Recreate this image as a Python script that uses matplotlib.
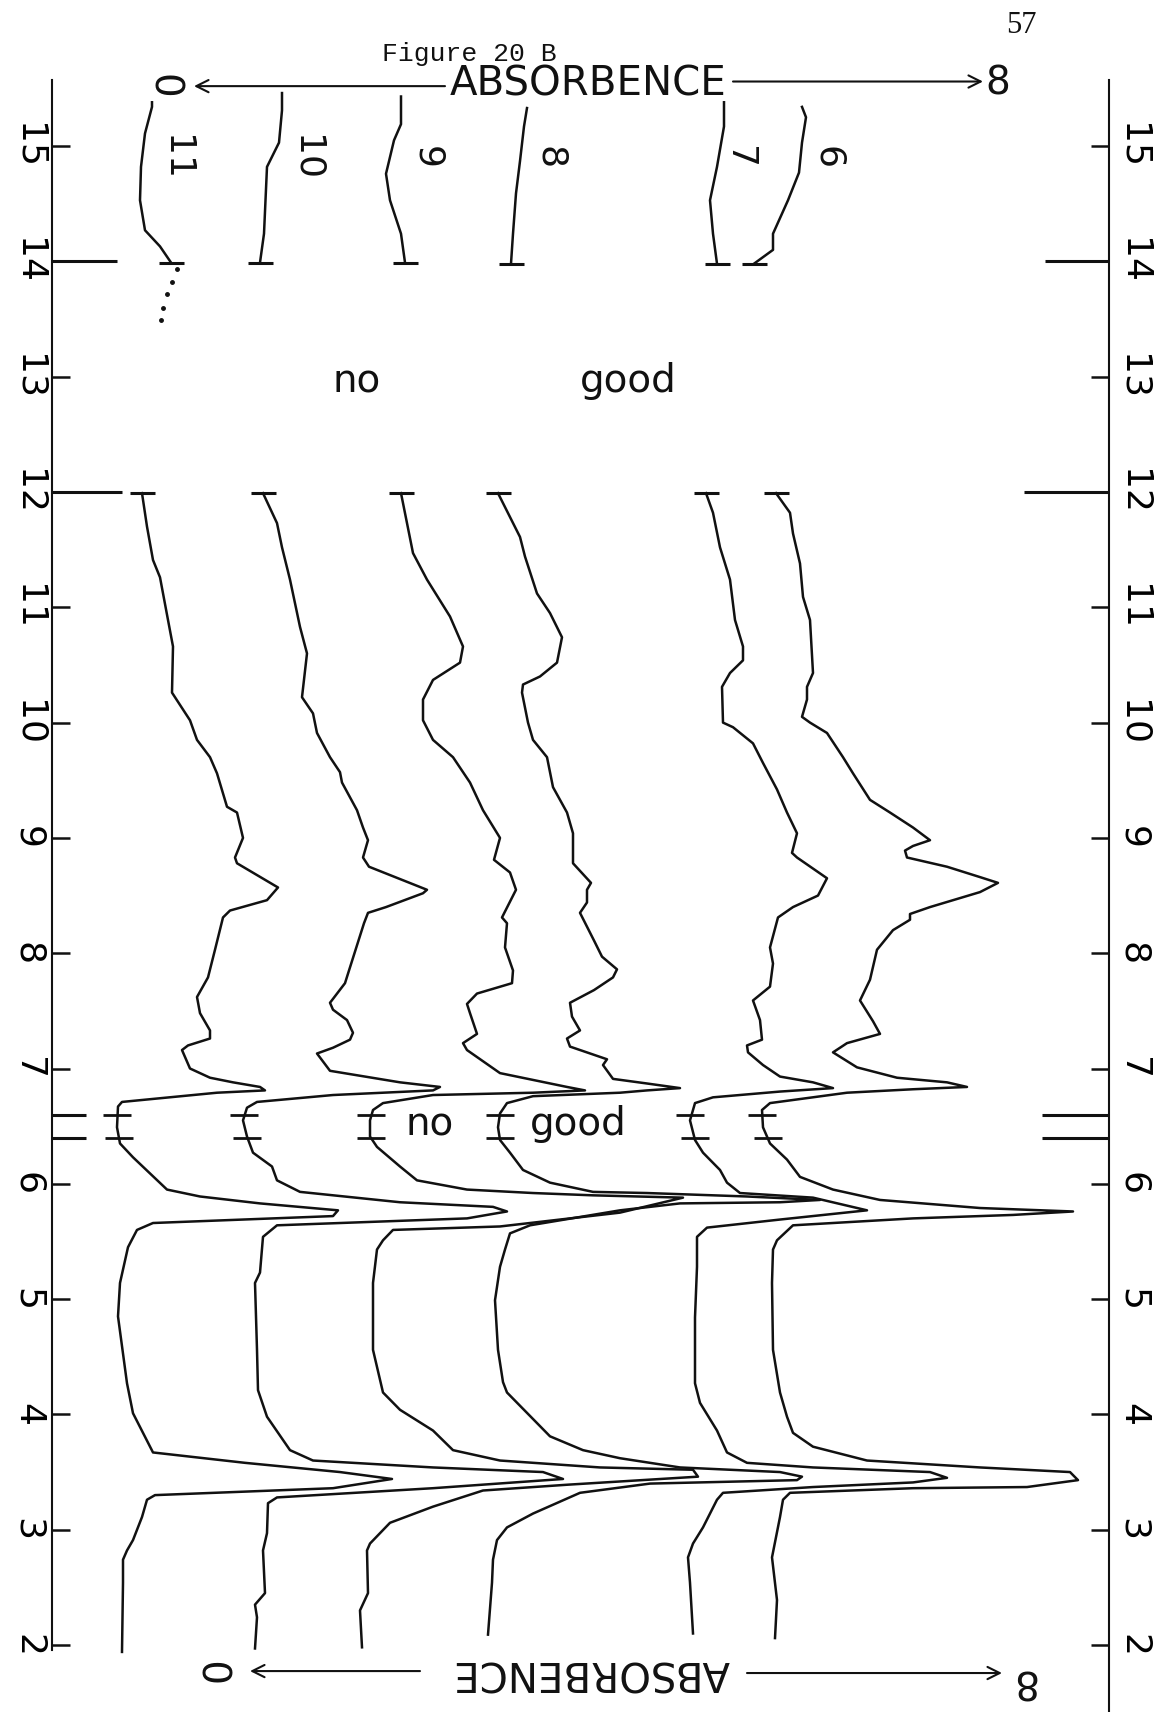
import numpy as np
import matplotlib.pyplot as plt

plt.rcParams['font.family'] = ['Liberation Sans Narrow', 'DejaVu Sans']

# Figure 20 B: IR traces of samples 6-11, absorbance (offset chart units) vs wavelength (microns)
# each row is (wavelength, absorbance offset)
wl_ticks = list(range(2, 16))

t11_low = np.array([
    (1.94, 1.22), (2.54, 1.23), (2.74, 1.23), (2.82, 1.27), (2.91, 1.33), (3.11, 1.42),
    (3.26, 1.47), (3.30, 1.55), (3.36, 3.33), (3.44, 3.92), (3.50, 3.40), (3.58, 2.45),
    (3.67, 1.53), (3.84, 1.43), (4.01, 1.33), (4.27, 1.27), (4.85, 1.18), (5.14, 1.20),
    (5.45, 1.28), (5.60, 1.37), (5.66, 1.53), (5.72, 3.33), (5.77, 3.38), (5.83, 2.60),
    (5.89, 2.00), (5.95, 1.67), (6.09, 1.50), (6.23, 1.33), (6.35, 1.20), (6.49, 1.17),
    (6.67, 1.18), (6.71, 1.22), (6.79, 2.17), (6.81, 2.65), (6.84, 2.60), (6.88, 2.33),
    (6.92, 2.10), (7.00, 1.90), (7.16, 1.82), (7.20, 1.88), (7.26, 2.10), (7.33, 2.10),
    (7.48, 2.00), (7.62, 1.97), (7.79, 2.08), (8.03, 2.15), (8.31, 2.23), (8.37, 2.30),
    (8.46, 2.67), (8.57, 2.78), (8.78, 2.37), (8.83, 2.35), (9.00, 2.43), (9.22, 2.37),
    (9.27, 2.27), (9.56, 2.17), (9.70, 2.10), (9.85, 1.97), (10.02, 1.90), (10.26, 1.72),
    (10.66, 1.73), (10.89, 1.68), (11.26, 1.60), (11.41, 1.53), (11.70, 1.47), (11.99, 1.42)])
t11_high = np.array([
    (13.99, 1.71), (14.13, 1.60), (14.27, 1.45), (14.53, 1.40), (14.82, 1.41), (15.11, 1.45),
    (15.34, 1.52), (15.38, 1.52)])
t11_dots = np.array([(13.93, 1.77), (13.82, 1.72), (13.72, 1.67), (13.60, 1.63), (13.49, 1.61)])

t10_low = np.array([
    (1.97, 2.55), (2.24, 2.57), (2.35, 2.55), (2.45, 2.65), (2.82, 2.63), (2.97, 2.67),
    (3.23, 2.68), (3.28, 2.77), (3.36, 4.33), (3.44, 5.63), (3.50, 5.43), (3.54, 4.33),
    (3.60, 3.13), (3.69, 2.90), (3.98, 2.67), (4.21, 2.58), (4.56, 2.57), (5.14, 2.55),
    (5.23, 2.60), (5.54, 2.63), (5.64, 2.77), (5.70, 4.67), (5.76, 5.07), (5.80, 4.93),
    (5.84, 4.00), (5.93, 3.00), (6.03, 2.77), (6.15, 2.72), (6.27, 2.53), (6.41, 2.47),
    (6.55, 2.43), (6.66, 2.47), (6.71, 2.57), (6.77, 3.33), (6.81, 4.33), (6.84, 4.40),
    (6.88, 4.00), (6.98, 3.30), (7.13, 3.17), (7.18, 3.33), (7.25, 3.50), (7.31, 3.53),
    (7.42, 3.47), (7.51, 3.33), (7.57, 3.30), (7.74, 3.45), (7.85, 3.49), (8.26, 3.64),
    (8.35, 3.68), (8.40, 3.86), (8.52, 4.23), (8.55, 4.27), (8.75, 3.69), (8.83, 3.63),
    (8.98, 3.68), (9.09, 3.63), (9.24, 3.57), (9.48, 3.42), (9.57, 3.40), (9.70, 3.30),
    (9.91, 3.17), (10.08, 3.13), (10.22, 3.02), (10.60, 3.07), (10.83, 3.00), (11.24, 2.90),
    (11.52, 2.82), (11.73, 2.77), (11.99, 2.63)])
t10_high = np.array([
    (13.99, 2.60), (14.24, 2.64), (14.82, 2.67), (15.03, 2.79), (15.31, 2.82), (15.46, 2.82)])

t9_low = np.array([
    (1.98, 3.62), (2.30, 3.60), (2.45, 3.68), (2.82, 3.67), (2.88, 3.70), (3.06, 3.90),
    (3.20, 4.33), (3.34, 4.83), (3.39, 5.67), (3.46, 6.98), (3.52, 6.93), (3.54, 6.00),
    (3.60, 5.00), (3.69, 4.53), (3.86, 4.33), (4.04, 4.00), (4.19, 3.83), (4.56, 3.73),
    (5.14, 3.73), (5.43, 3.77), (5.51, 3.83), (5.60, 3.93), (5.63, 5.00), (5.75, 6.20),
    (5.88, 6.83), (5.90, 5.93), (5.92, 5.33), (5.95, 4.67), (6.03, 4.17), (6.15, 4.00),
    (6.32, 3.77), (6.41, 3.70), (6.55, 3.70), (6.64, 3.73), (6.70, 3.83), (6.77, 4.33),
    (6.79, 5.33), (6.81, 5.85), (6.84, 5.67), (6.96, 5.00), (7.16, 4.67), (7.22, 4.63),
    (7.30, 4.77), (7.48, 4.70), (7.56, 4.67), (7.65, 4.77), (7.74, 5.12), (7.85, 5.13),
    (8.05, 5.05), (8.26, 5.07), (8.31, 5.02), (8.55, 5.16), (8.70, 5.10), (8.81, 4.94),
    (9.00, 5.00), (9.24, 4.83), (9.48, 4.70), (9.70, 4.53), (9.85, 4.33), (10.02, 4.23),
    (10.20, 4.23), (10.37, 4.33), (10.52, 4.60), (10.66, 4.63), (10.92, 4.50), (11.24, 4.27),
    (11.47, 4.13), (11.73, 4.07), (11.99, 4.01)])
t9_high = np.array([
    (13.99, 4.05), (14.24, 4.01), (14.53, 3.90), (14.76, 3.86), (15.05, 3.94), (15.19, 4.01),
    (15.43, 4.01)])

t8_low = np.array([
    (2.09, 4.88), (2.54, 4.92), (2.74, 4.93), (2.91, 4.97), (3.02, 5.07), (3.14, 5.33),
    (3.32, 5.80), (3.40, 6.50), (3.43, 7.97), (3.46, 8.02), (3.50, 7.80), (3.54, 6.80),
    (3.62, 6.20), (3.69, 5.83), (3.81, 5.50), (4.19, 5.07), (4.28, 5.03), (4.56, 4.98),
    (4.99, 4.95), (5.28, 5.00), (5.43, 5.05), (5.57, 5.10), (5.64, 5.30), (5.77, 6.20),
    (5.83, 6.80), (5.84, 7.80), (5.86, 8.20), (5.89, 7.47), (5.92, 6.47), (5.93, 5.93),
    (6.01, 5.50), (6.12, 5.23), (6.27, 5.10), (6.38, 5.00), (6.49, 4.98), (6.61, 5.00),
    (6.70, 5.07), (6.76, 5.33), (6.79, 6.20), (6.81, 6.47), (6.83, 6.80), (6.87, 6.47),
    (6.91, 6.13), (7.03, 6.03), (7.08, 6.07), (7.19, 5.70), (7.26, 5.67), (7.33, 5.80),
    (7.45, 5.72), (7.57, 5.70), (7.68, 5.94), (7.79, 6.13), (7.86, 6.17), (7.97, 6.02),
    (8.11, 5.94), (8.35, 5.80), (8.44, 5.87), (8.55, 5.87), (8.61, 5.91), (8.78, 5.73),
    (9.04, 5.73), (9.22, 5.67), (9.44, 5.53), (9.70, 5.47), (9.85, 5.33), (10.00, 5.28),
    (10.26, 5.22), (10.33, 5.23), (10.40, 5.40), (10.52, 5.57), (10.74, 5.62), (10.95, 5.50),
    (11.12, 5.37), (11.44, 5.25), (11.61, 5.20), (11.99, 4.98)])
t8_high = np.array([
    (13.98, 5.11), (14.24, 5.13), (14.59, 5.16), (14.87, 5.20), (15.17, 5.24), (15.33, 5.27)])

t7_low = np.array([
    (2.10, 6.93), (2.54, 6.90), (2.76, 6.88), (2.88, 6.93), (3.02, 7.03), (3.26, 7.17),
    (3.32, 7.23), (3.37, 8.13), (3.41, 9.13), (3.45, 9.47), (3.50, 9.30), (3.54, 8.13),
    (3.58, 7.47), (3.67, 7.27), (3.86, 7.17), (4.10, 7.00), (4.27, 6.95), (4.84, 6.95),
    (5.28, 6.97), (5.54, 6.97), (5.62, 7.07), (5.69, 7.80), (5.77, 8.67), (5.88, 8.13),
    (5.92, 7.40), (6.01, 7.27), (6.12, 7.20), (6.27, 7.03), (6.38, 6.95), (6.55, 6.90),
    (6.70, 6.95), (6.75, 7.13), (6.80, 7.80), (6.83, 8.33), (6.88, 8.13), (6.93, 7.80),
    (7.03, 7.63), (7.14, 7.48), (7.20, 7.47), (7.25, 7.62), (7.42, 7.60), (7.59, 7.53),
    (7.71, 7.70), (7.91, 7.73), (8.05, 7.70), (8.31, 7.78), (8.40, 7.93), (8.50, 8.18),
    (8.65, 8.27), (8.83, 7.97), (8.87, 7.92), (9.04, 7.97), (9.22, 7.87), (9.42, 7.77),
    (9.65, 7.63), (9.82, 7.53), (9.96, 7.33), (10.00, 7.23), (10.31, 7.22), (10.43, 7.30),
    (10.54, 7.43), (10.66, 7.43), (10.89, 7.35), (11.24, 7.30), (11.52, 7.20), (11.82, 7.13),
    (11.99, 7.06)])
t7_high = np.array([
    (13.98, 7.17), (14.24, 7.13), (14.53, 7.10), (14.82, 7.17), (15.17, 7.24), (15.38, 7.24)])

t6_low = np.array([
    (2.06, 7.75), (2.39, 7.77), (2.76, 7.72), (3.11, 7.80), (3.26, 7.83), (3.32, 7.90),
    (3.36, 9.13), (3.37, 10.27), (3.43, 10.78), (3.50, 10.70), (3.54, 9.80), (3.60, 8.67),
    (3.72, 8.13), (3.84, 7.93), (3.98, 7.87), (4.19, 7.80), (4.56, 7.73), (5.14, 7.72),
    (5.43, 7.73), (5.51, 7.77), (5.64, 7.93), (5.70, 9.13), (5.73, 10.13), (5.76, 10.73),
    (5.79, 9.80), (5.86, 8.80), (5.95, 8.33), (6.06, 8.00), (6.21, 7.87), (6.35, 7.70),
    (6.49, 7.63), (6.64, 7.62), (6.70, 7.70), (6.79, 8.47), (6.82, 9.13), (6.84, 9.67),
    (6.88, 9.47), (6.92, 8.97), (7.01, 8.57), (7.14, 8.33), (7.22, 8.47), (7.30, 8.80),
    (7.41, 8.73), (7.59, 8.60), (7.77, 8.70), (8.03, 8.77), (8.20, 8.93), (8.29, 9.10),
    (8.34, 9.10), (8.40, 9.30), (8.53, 9.80), (8.61, 9.98), (8.66, 9.80), (8.75, 9.47),
    (8.83, 9.07), (8.89, 9.05), (8.93, 9.13), (8.98, 9.30), (9.09, 9.13), (9.22, 8.90),
    (9.33, 8.70), (9.56, 8.53), (9.70, 8.43), (9.91, 8.27), (10.00, 8.10), (10.05, 8.02),
    (10.20, 8.07), (10.31, 8.07), (10.43, 8.13), (10.89, 8.10), (11.09, 8.03), (11.38, 8.00),
    (11.64, 7.93), (11.82, 7.90), (11.99, 7.76)])
t6_high = np.array([
    (13.98, 7.54), (14.10, 7.73), (14.24, 7.73), (14.53, 7.88), (14.77, 7.99), (15.03, 8.02),
    (15.25, 8.06), (15.34, 8.02)])

# "no good" band between 6.4 and 6.6 microns: bar positions on each trace
bad_band = [6.40, 6.60]
bar_lo = [1.19, 2.47, 3.71, 5.00, 6.95, 7.68]
bar_hi = [1.17, 2.44, 3.71, 5.00, 6.90, 7.62]

labels = ['11', '10', '9', '8', '7', '6']
lows = [t11_low, t10_low, t9_low, t8_low, t7_low, t6_low]
highs = [t11_high, t10_high, t9_high, t8_high, t7_high, t6_high]
label_x = [1.76, 3.06, 4.27, 5.50, 7.39, 8.28]

ink = '#111111'

fig = plt.figure(figsize=(11.59, 17.12), dpi=100)
ax = fig.add_axes([0, 0, 1, 1])
ax.set_xlim(0, 11.59)
ax.set_ylim(1.419, 16.267)

for s in ['top', 'bottom']:
    ax.spines[s].set_visible(False)
ax.spines['left'].set_position(('data', 0.52))
ax.spines['left'].set_bounds(1.96, 15.57)
ax.spines['right'].set_position(('data', 11.09))
ax.spines['right'].set_bounds(1.419, 15.57)
for s in ['left', 'right']:
    ax.spines[s].set_linewidth(1.5)
    ax.spines[s].set_color(ink)

ax.set_xticks([])
ax.set_yticks(wl_ticks, [str(t) for t in wl_ticks], rotation=-90, va='center', fontsize=26)
ax.tick_params(axis='y', direction='in', length=13, width=1.8, color=ink,
               left=True, right=True, labelleft=True, labelright=True, pad=5)

# long marks at 12, 14 and around the bad band
ax.hlines([12, 14] + bad_band, 0.52, [1.22, 1.17, 0.86, 0.86], color=ink, lw=2.2)
ax.hlines([12, 14] + bad_band, [10.24, 10.45, 10.42, 10.42], 11.09, color=ink, lw=2.2)

for lab, lo, hi, lx in zip(labels, lows, highs, label_x):
    ax.plot(lo[:, 1], lo[:, 0], color=ink, lw=1.8, solid_joinstyle='round')
    ax.plot(hi[:, 1], hi[:, 0], color=ink, lw=1.8, solid_joinstyle='round')
    ax.plot([lo[-1, 1], hi[0, 1]], [lo[-1, 0], hi[0, 0]], ls='none',
            marker='_', ms=18, mew=2.2, color=ink)
    ax.text(lx, 14.90, lab, rotation=-90, ha='center', va='center', fontsize=26, color=ink)

ax.plot(bar_lo, [bad_band[0]] * 6, ls='none', marker='_', ms=20, mew=2, color=ink)
ax.plot(bar_hi, [bad_band[1]] * 6, ls='none', marker='_', ms=20, mew=2, color=ink)
ax.plot(t11_dots[:, 1], t11_dots[:, 0], ls='none', marker='o', ms=2.5, color=ink)

# annotations
txt = dict(family='DejaVu Sans', color=ink)
ax.text(3.57, 12.867, 'no', ha='center', va='baseline', fontsize=28, **txt)
ax.text(6.28, 12.867, 'good', ha='center', va='baseline', fontsize=28, **txt)
ax.text(4.30, 6.419, 'no', ha='center', va='baseline', fontsize=28, **txt)
ax.text(5.78, 6.419, 'good', ha='center', va='baseline', fontsize=28, **txt)

ax.text(3.82, 15.74, 'Figure 20 B', ha='left', va='baseline', fontsize=19,
        family='Liberation Mono', color=ink)
ax.text(10.21, 16.05, '57', ha='center', va='center', fontsize=22,
        family='Liberation Serif', color=ink)

arrow = dict(arrowstyle='->', lw=1.5, color=ink, mutation_scale=22, shrinkA=0, shrinkB=0)
ax.text(5.88, 15.53, 'ABSORBENCE', ha='center', va='center', fontsize=29, **txt)
ax.text(1.63, 15.52, '0', rotation=-90, ha='center', va='center', fontsize=28, color=ink)
ax.text(9.98, 15.54, '8', ha='center', va='center', fontsize=28, **txt)
ax.annotate('', xy=(1.94, 15.52), xytext=(4.45, 15.52), arrowprops=arrow)
ax.annotate('', xy=(9.83, 15.56), xytext=(7.33, 15.56), arrowprops=arrow)

ax.text(5.91, 1.766, 'ABSORBENCE', rotation=180, ha='center', va='center', fontsize=29, **txt)
ax.text(2.20, 1.783, '0', rotation=90, ha='center', va='center', fontsize=28, color=ink)
ax.text(10.23, 1.696, '8', rotation=180, ha='center', va='center', fontsize=28, **txt)
ax.annotate('', xy=(2.50, 1.774), xytext=(4.20, 1.774), arrowprops=arrow)
ax.annotate('', xy=(10.02, 1.757), xytext=(7.47, 1.757), arrowprops=arrow)

fig.savefig('out.png', dpi=100, facecolor='white')
